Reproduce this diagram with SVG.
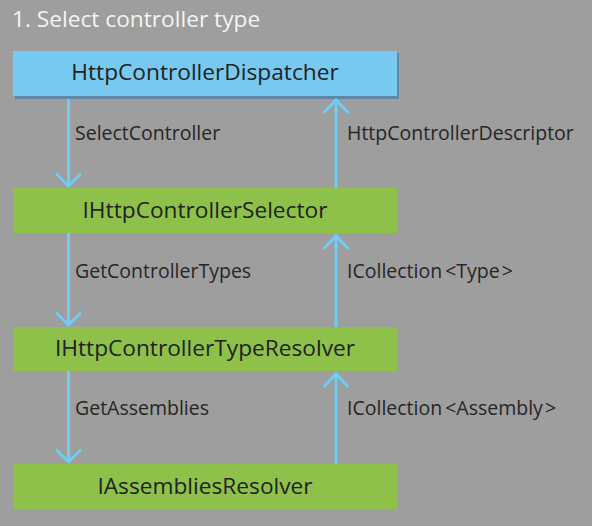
<svg xmlns="http://www.w3.org/2000/svg" width="592" height="526" viewBox="0 0 592 526">
<defs>
<style>
.bg{fill:#9d9e9d}
.title{font-family:"Open Sans","Noto Sans",sans-serif;font-size:22.7px;fill:#f4f4f4}
.node-text{font-family:"Open Sans","Noto Sans",sans-serif;font-size:22.7px;fill:#222222;text-anchor:middle}
.lbl{font-family:"Open Sans","Noto Sans",sans-serif;font-size:19.5px;fill:#262626}
.blue{fill:#77c9f1}
.shadow{fill:#5f87a8}
.green{fill:#8dc149}
.conn line,.conn polyline{stroke:#6dcdf5;stroke-width:3;fill:none}
</style>
</defs>
<rect class="bg" x="0" y="0" width="592" height="526"/>
<text class="title" x="12" y="27">1. Select controller type</text>
<g id="node-dispatcher">
<rect class="shadow" x="15" y="53" width="384" height="46"/>
<rect class="blue" x="13" y="51" width="384" height="45"/>
<text class="node-text" x="205" y="80">HttpControllerDispatcher</text>
</g>
<g id="node-selector">
<rect class="green" x="13" y="188" width="384" height="45"/>
<text class="node-text" x="205" y="218">IHttpControllerSelector</text>
</g>
<g id="node-typeresolver">
<rect class="green" x="13" y="327" width="384" height="44"/>
<text class="node-text" x="205" y="356">IHttpControllerTypeResolver</text>
</g>
<g id="node-assemblies">
<rect class="green" x="13" y="464" width="384" height="45"/>
<text class="node-text" x="205" y="494">IAssembliesResolver</text>
</g>
<g id="connectors" class="conn">
<line x1="68.5" y1="99" x2="68.5" y2="186"/>
<polyline points="56,173.5 68.5,186 81,173.5"/>
<line x1="336" y1="188" x2="336" y2="100"/>
<polyline points="323.5,113 336,100 348.5,113"/>
<line x1="68.5" y1="233" x2="68.5" y2="325"/>
<polyline points="56,312.5 68.5,325 81,312.5"/>
<line x1="336" y1="327" x2="336" y2="236"/>
<polyline points="323.5,249 336,236 348.5,249"/>
<line x1="68.5" y1="371" x2="68.5" y2="462"/>
<polyline points="56,449.5 68.5,462 81,449.5"/>
<line x1="336" y1="464" x2="336" y2="374"/>
<polyline points="323.5,387 336,374 348.5,387"/>
<text class="lbl" x="75" y="140">SelectController</text>
<text class="lbl" x="347" y="140">HttpControllerDescriptor</text>
<text class="lbl" x="75" y="278">GetControllerTypes</text>
<text class="lbl" x="347" y="278">ICollection<tspan dx="3">&lt;Type</tspan><tspan dx="2">&gt;</tspan></text>
<text class="lbl" x="75" y="415">GetAssemblies</text>
<text class="lbl" x="347" y="415">ICollection<tspan dx="3">&lt;Assembly</tspan><tspan dx="2">&gt;</tspan></text>
</g>
</svg>
